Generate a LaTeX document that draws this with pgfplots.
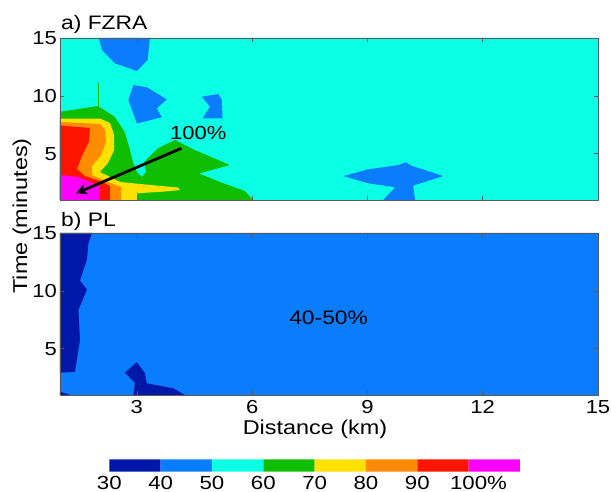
\documentclass[border=0pt]{standalone}
\usepackage{pgfplots}
\pgfplotsset{compat=1.18}
\usepackage{fontspec}
\setmainfont{Liberation Sans}[FakeStretch=1.17]
\usetikzlibrary{arrows.meta}
\definecolor{c30}{RGB}{0,24,168}
\definecolor{c40}{RGB}{10,125,255}
\definecolor{c50}{RGB}{10,255,228}
\definecolor{c60}{RGB}{15,190,0}
\definecolor{c70}{RGB}{255,225,0}
\definecolor{c80}{RGB}{255,140,0}
\definecolor{c90}{RGB}{255,20,0}
\definecolor{c100}{RGB}{255,0,255}
\definecolor{frame}{RGB}{90,90,90}
\pgfplotsset{
  panel/.style={
    scale only axis, width=538pt, height=162pt,
    xmin=1, xmax=15, ymin=1, ymax=15,
    axis on top,
    axis line style={frame, line width=0.8pt},
    every tick/.style={frame, line width=0.6pt},
    major tick length=4pt,
    ytick={5,10,15},
    /pgf/number format/assume math mode=true,
    every tick label/.append style={inner sep=0pt, font=\fontsize{18.8}{20}\selectfont},
    x tick label style={yshift=-5pt},
    y tick label style={xshift=-3pt},
  }
}
\begin{document}
\begin{tikzpicture}
\useasboundingbox (0pt,0pt) rectangle (611pt,492pt);
% ---------------- panel a: FZRA
\begin{axis}[panel, at={(60pt,292pt)}, anchor=south west, xtick={3,6,9,12}, xticklabels={}]
\addplot[fill=c50, draw=none] coordinates {(1,1) (15,1) (15,15) (1,15) (1,1)};
% blue patches
\addplot[fill=c40, draw=none] coordinates {(2.01,15) (3.34,15) (3.28,13.10) (3.00,12.15) (2.43,12.81) (2.09,13.96) (2.01,15)};
\addplot[fill=c40, draw=none] coordinates {(2.91,10.94) (3.26,10.74) (3.78,9.70) (3.52,8.92) (3.65,8.15) (3.00,7.61) (2.78,9.64) (2.91,10.94)};
\addplot[fill=c40, draw=none] coordinates {(4.69,9.93) (5.12,10.16) (5.21,9.64) (5.23,8.06) (4.71,8.06) (4.90,9.06) (4.69,9.93)};
\addplot[fill=c40, draw=none] coordinates {(8.37,3.07) (9.02,3.65) (9.80,4.02) (10.00,4.26) (10.15,3.96) (10.97,3.07) (10.19,2.24) (10.24,1) (9.41,1) (9.72,2.10) (9.02,2.44) (8.37,3.07)};
% green
\addplot[fill=c60, draw=none] coordinates {(1,8.63) (1.99,9.12) (2.42,8.20) (2.68,6.90) (2.81,5.47) (2.90,4.28) (3.00,3.42) (3.13,2.99) (3.24,3.42) (3.19,4.28) (3.55,5.47) (3.99,6.19) (4.51,5.32) (5.42,4.02) (4.62,3.29) (5.16,2.56) (5.81,1.78) (6.02,1) (1,1) (1,8.63)};
\addplot[c60, line width=0.8pt] coordinates {(1.99,9.0) (1.99,11.09)};
% yellow
\addplot[fill=c70, draw=none] coordinates {(1,8.04) (2.04,8.04) (2.30,7.65) (2.41,6.62) (2.41,5.32) (2.25,4.20) (2.04,3.42) (2.56,2.56) (3.34,2.30) (4.07,2.08) (4.12,1.86) (3.68,1.72) (3.00,1.58) (3.00,1) (1,1) (1,8.04)};
% orange
\addplot[fill=c80, draw=none] coordinates {(1,7.74) (2.04,7.57) (2.17,7.05) (2.20,6.01) (2.07,4.89) (1.83,3.94) (1.83,3.16) (2.30,2.47) (2.59,2.12) (2.59,1) (1,1) (1,7.74)};
% red
\addplot[fill=c90, draw=none] coordinates {(1,7.44) (1.78,7.22) (1.75,6.01) (1.57,4.80) (1.44,3.68) (1.65,3.07) (2.04,2.64) (2.30,2.21) (2.30,1) (1,1) (1,7.44)};
% magenta
\addplot[fill=c100, draw=none] coordinates {(1,3.16) (1.47,2.99) (2.03,2.21) (2.03,1) (1,1) (1,3.16)};
% arrow
\addplot[black, line width=2.8pt, -{Stealth[length=11pt,width=11pt]}] coordinates {(4.16,5.47) (1.42,1.58)};
\node[font=\fontsize{18.8}{20}\selectfont] at (axis cs:4.60,6.83) {100\%};
\end{axis}
% ---------------- panel b: PL
\begin{axis}[panel, at={(60pt,97pt)}, anchor=south west, xtick={3,6,9,12,15}]
\addplot[fill=c40, draw=none] coordinates {(1,1) (15,1) (15,15) (1,15) (1,1)};
\addplot[fill=c30, draw=none] coordinates {(1,15) (1.83,15) (1.74,14.1) (1.70,12.7) (1.52,10.9) (1.70,10.1) (1.48,8.35) (1.52,5.75) (1.39,3.0) (1,2.93) (1,15)};
\addplot[fill=c30, draw=none] coordinates {(2.69,2.93) (3.0,3.83) (3.21,2.88) (3.26,2.01) (3.95,1.58) (4.25,1) (2.91,1) (2.95,2.06) (2.69,2.93)};
\addplot[fill=c30, draw=none] coordinates {(1,1.29) (1.26,1) (1,1) (1,1.29)};
\node[font=\fontsize{19.5}{20}\selectfont] at (axis cs:7.99,7.65) {40-50\%};
\end{axis}
% ---------------- colour bar
\begin{axis}[scale only axis, at={(109.3pt,20.3pt)}, anchor=south west, width=410.7pt, height=12.4pt,
  xmin=30, xmax=110, ymin=0, ymax=1,
  axis line style={draw=none}, major tick length=0pt, ytick=\empty,
  xtick={30,40,50,60,70,80,90,100},
  xticklabels={30,40,50,60,70,80,90,100\rlap{\%}},
  every tick label/.append style={inner sep=0pt, font=\fontsize{19}{20}\selectfont},
  x tick label style={yshift=-4pt}]
\addplot[fill=c30, draw=none] coordinates {(30,0) (40,0) (40,1) (30,1) (30,0)};
\addplot[fill=c40, draw=none] coordinates {(40,0) (50,0) (50,1) (40,1) (40,0)};
\addplot[fill=c50, draw=none] coordinates {(50,0) (60,0) (60,1) (50,1) (50,0)};
\addplot[fill=c60, draw=none] coordinates {(60,0) (70,0) (70,1) (60,1) (60,0)};
\addplot[fill=c70, draw=none] coordinates {(70,0) (80,0) (80,1) (70,1) (70,0)};
\addplot[fill=c80, draw=none] coordinates {(80,0) (90,0) (90,1) (80,1) (80,0)};
\addplot[fill=c90, draw=none] coordinates {(90,0) (100,0) (100,1) (90,1) (90,0)};
\addplot[fill=c100, draw=none] coordinates {(100,0) (110,0) (110,1) (100,1) (100,0)};
\end{axis}
% ---------------- labels
\node[anchor=base west, font=\fontsize{19.5}{20}\selectfont, inner sep=0pt] at (61pt,462.7pt) {a) FZRA};
\node[anchor=base west, font=\fontsize{19.5}{20}\selectfont, inner sep=0pt] at (61pt,265.3pt) {b) PL};
\node[anchor=base, rotate=90, font=\fontsize{20}{20}\selectfont, inner sep=0pt] at (27pt,276pt) {Time (minutes)};
\node[anchor=base, font=\fontsize{20}{20}\selectfont, inner sep=0pt] at (315pt,57.7pt) {Distance (km)};
\end{tikzpicture}
\end{document}
